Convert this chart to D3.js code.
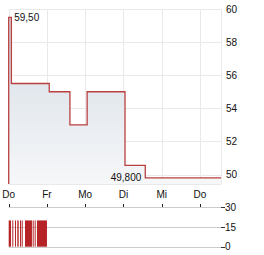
<!DOCTYPE html>
<html>
<head>
<meta charset="utf-8">
<script src="https://cdn.jsdelivr.net/npm/d3@7"></script>
<style>
  body { margin: 0; background: #fff; }
  text { font-family: Arial, "Liberation Sans", sans-serif; font-size: 10px; fill: #111; }
</style>
</head>
<body>
<svg id="chart" width="264" height="255"></svg>
<script>
// day index: 0 = Do, 1 = Fr, ...
const dayLabels = ["Do", "Fr", "Mo", "Di", "Mi", "Do"];
const priceTicks = [50, 52, 54, 56, 58, 60];
const volTicks = [0, 15, 30];

// price steps [day, value]
const priceTimes = [0, 0.07, 1.06, 1.6, 2.05, 3.04, 3.57, 5.55];
const priceValues = [59.5, 55.5, 55.0, 53.0, 55.0, 50.55, 49.8, 49.8];

// volume bars [from day, to day, volume]
const volFrom = [0, 0.094, 0.164, 0.225, 0.295, 0.339, 0.426, 0.627, 0.679, 0.739];
const volTo = [0.06, 0.12, 0.19, 0.261, 0.321, 0.366, 0.608, 0.653, 0.705, 1.0];
const volValues = [20, 20, 20, 20, 20, 20, 20, 20, 20, 20];

const svg = d3.select("#chart");
const pLeft = 8.7, pRight = 221, pTop = 9, pBottom = 184;

const x = d3.scaleLinear().domain([0, 5]).range([pLeft, 200]);
const y = d3.scaleLinear().domain([50, 60]).range([174.5, pTop]);
const yv = d3.scaleLinear().domain([0, 30]).range([246.7, 207.3]);

const grad = svg.append("defs").append("linearGradient")
    .attr("id", "fillGrad")
    .attr("x1", 0).attr("y1", 0).attr("x2", 0).attr("y2", 1);
grad.append("stop").attr("offset", "0%").attr("stop-color", "#d3dce4");
grad.append("stop").attr("offset", "100%").attr("stop-color", "#f6f7f9");

const px = v => Math.round(v) + 0.5;

// grid
svg.append("g").selectAll("line")
    .data(priceTicks)
    .enter()
    .append("line")
    .attr("x1", pLeft).attr("x2", pRight)
    .attr("y1", d => px(y(d))).attr("y2", d => px(y(d)))
    .attr("stroke", "#e9e9e9");

svg.append("line")
    .attr("x1", pLeft).attr("x2", pRight)
    .attr("y1", pBottom + 0.5).attr("y2", pBottom + 0.5)
    .attr("stroke", "#e9e9e9");

svg.append("g").selectAll("line")
    .data(dayLabels)
    .enter()
    .append("line")
    .attr("x1", (d, i) => px(x(i))).attr("x2", (d, i) => px(x(i)))
    .attr("y1", pTop).attr("y2", pBottom)
    .attr("stroke", "#e9e9e9");

svg.append("line")
    .attr("x1", pRight + 0.5).attr("x2", pRight + 0.5)
    .attr("y1", pTop).attr("y2", pBottom)
    .attr("stroke", "#e9e9e9");

// price area + line
const pts = priceTimes.map((t, i) => [t, priceValues[i]]);

const area = d3.area()
    .x(d => x(d[0]))
    .y0(pBottom)
    .y1(d => y(d[1]))
    .curve(d3.curveStepAfter);

svg.append("path")
    .datum(pts)
    .attr("d", area)
    .attr("fill", "url(#fillGrad)");

const line = d3.line()
    .x(d => x(d[0]))
    .y(d => y(d[1]))
    .curve(d3.curveStepAfter);

svg.append("path")
    .datum(pts)
    .attr("d", d => "M" + x(0) + "," + pBottom + "L" + line(d).slice(1))
    .attr("fill", "none")
    .attr("stroke", "#b9403f")
    .attr("stroke-width", 1.3);

// high / low labels
svg.append("text")
    .attr("x", x(0) + 5.5).attr("y", y(59.5) + 3.5)
    .text(d3.format(".2f")(59.5).replace(".", ","));

svg.append("text")
    .attr("x", x(3.57) - 4).attr("y", y(49.8) + 3.5)
    .attr("text-anchor", "end")
    .text(d3.format(".3f")(49.8).replace(".", ","));

// price axis labels
svg.append("g").selectAll("text")
    .data(priceTicks)
    .enter()
    .append("text")
    .attr("x", 226).attr("y", d => y(d) + 3.5)
    .text(d => d);

// day labels
svg.append("g").selectAll("text")
    .data(dayLabels)
    .enter()
    .append("text")
    .attr("x", (d, i) => x(i)).attr("y", 197.5)
    .attr("text-anchor", "middle")
    .text(d => d);

// volume grid
svg.append("g").selectAll("line")
    .data(volTicks)
    .enter()
    .append("line")
    .attr("x1", pLeft).attr("x2", 221)
    .attr("y1", d => px(yv(d))).attr("y2", d => px(yv(d)))
    .attr("stroke", "#cccccc");

svg.append("g").selectAll("line")
    .data(volTicks)
    .enter()
    .append("line")
    .attr("x1", 221).attr("x2", 225)
    .attr("y1", d => px(yv(d))).attr("y2", d => px(yv(d)))
    .attr("stroke", "#333");

svg.append("g").selectAll("line")
    .data(dayLabels)
    .enter()
    .append("line")
    .attr("x1", (d, i) => px(x(i))).attr("x2", (d, i) => px(x(i)))
    .attr("y1", Math.round(yv(30)) - 3).attr("y2", Math.round(yv(30)))
    .attr("stroke", "#222");

svg.append("g").selectAll("text")
    .data(volTicks)
    .enter()
    .append("text")
    .attr("x", 225).attr("y", d => yv(d) + 3.5)
    .text(d => d);

// volume bars
svg.append("g").selectAll("rect")
    .data(volValues)
    .enter()
    .append("rect")
    .attr("x", (d, i) => x(volFrom[i]))
    .attr("width", (d, i) => x(volTo[i]) - x(volFrom[i]))
    .attr("y", d => yv(d))
    .attr("height", d => yv(0) - yv(d))
    .attr("fill", "#b52326");
</script>
</body>
</html>
